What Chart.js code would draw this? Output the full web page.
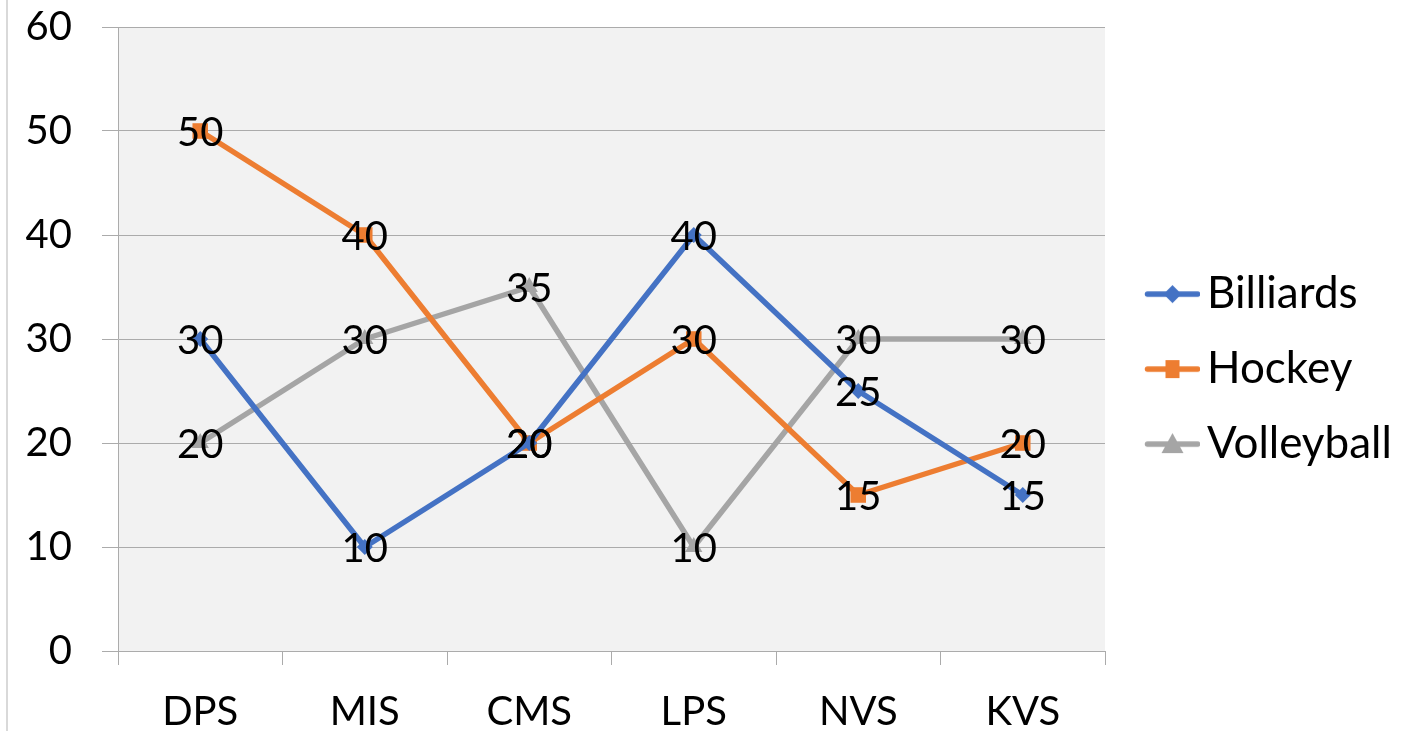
<!DOCTYPE html>
<html><head><meta charset="utf-8">
<script src="https://cdn.jsdelivr.net/npm/chart.js@4"></script>
<style>
html,body{margin:0;padding:0;background:#fff;overflow:hidden}
#wrap{position:relative;width:1401px;height:731px}
#edge{position:absolute;left:6px;top:0;width:2px;height:731px;background:#d9d9d9}
canvas{display:block}
</style></head><body>
<div id="wrap"><canvas id="c" width="1401" height="731"></canvas><div id="edge"></div></div>
<script>
const categories = ['DPS','MIS','CMS','LPS','NVS','KVS'];
const billiards = [30,10,20,40,25,15];
const hockey = [50,40,20,30,15,20];
const volleyball = [20,30,35,10,30,30];
const seriesNames = ['Billiards','Hockey','Volleyball'];
const seriesColors = ['#4472C4','#ED7D31','#A5A5A5'];
const seriesMarkers = ['rectRot','rect','triangle'];
const yTicks = [0,10,20,30,40,50,60];

const FONT = 'Lato, "Open Sans", sans-serif';

function makeIcon(color, marker){
  const c = document.createElement('canvas');
  c.width = 79; c.height = 26;
  const g = c.getContext('2d');
  g.strokeStyle = color; g.fillStyle = color; g.lineWidth = 5.5; g.lineCap = 'round';
  g.beginPath(); g.moveTo(26.5, 13); g.lineTo(76.5, 13); g.stroke();
  const cx = 51.5, cy = 13;
  g.beginPath();
  if (marker === 'rectRot') { g.moveTo(cx-9,cy); g.lineTo(cx,cy-9); g.lineTo(cx+9,cy); g.lineTo(cx,cy+9); }
  else if (marker === 'rect') { g.rect(cx-7, cy-9, 14, 18); }
  else { g.moveTo(cx, cy-11); g.lineTo(cx+11, cy+9); g.lineTo(cx-11, cy+9); }
  g.closePath(); g.fill();
  return c;
}
const icons = seriesColors.map((col,i)=>makeIcon(col, seriesMarkers[i]));

const bgPlugin = {
  id: 'plotBg',
  beforeDraw(chart){
    const {ctx, chartArea:a} = chart;
    ctx.save(); ctx.fillStyle = '#f2f2f2';
    ctx.fillRect(a.left, a.top, a.right-a.left, a.bottom-a.top);
    ctx.restore();
  }
};
const labelPlugin = {
  id: 'valLabels',
  afterDatasetsDraw(chart){
    const ctx = chart.ctx;
    ctx.save();
    ctx.font = '40px ' + FONT;
    ctx.fillStyle = '#000';
    ctx.textAlign = 'center';
    ctx.textBaseline = 'middle';
    chart.data.datasets.forEach((ds, di)=>{
      const meta = chart.getDatasetMeta(di);
      meta.data.forEach((pt, i)=>{
        ctx.fillText(String(ds.data[i]), pt.x, pt.y + 2);
      });
    });
    ctx.restore();
  }
};

const seriesData = [billiards, hockey, volleyball];
const datasets = seriesNames.map((name,i)=>({
  label: name,
  data: seriesData[i],
  borderColor: seriesColors[i],
  backgroundColor: seriesColors[i],
  borderWidth: 5.5,
  tension: 0,
  pointStyle: seriesMarkers[i],
  pointRadius: seriesMarkers[i]==='rect' ? 11 : (seriesMarkers[i]==='rectRot' ? 8 : 10),
  pointBorderWidth: 0,
  pointBackgroundColor: seriesColors[i],
  borderCapStyle: 'round',
  borderJoinStyle: 'round'
}));

new Chart(document.getElementById('c'), {
  type: 'line',
  data: { labels: categories, datasets },
  plugins: [bgPlugin, labelPlugin],
  options: {
    responsive: false,
    animation: false,
    devicePixelRatio: 1,
    layout: { padding: { top: 0, left: 0, right: 0, bottom: 0 } },
    plugins: {
      tooltip: { enabled: false },
      legend: {
        position: 'right',
        maxWidth: 296,
        title: { display: true, text: '', font: { size: 1 }, padding: { top: 3, bottom: 3 } },
        labels: {
          color: '#000',
          font: { family: FONT, size: 44 },
          usePointStyle: true,
          pointStyleWidth: 49,
          padding: 31,
          generateLabels(chart){
            const items = Chart.defaults.plugins.legend.labels.generateLabels(chart);
            items.forEach((it,i)=>{ it.pointStyle = icons[i]; it.fontColor = '#000'; });
            return items;
          }
        }
      }
    },
    scales: {
      x: {
        type: 'category',
        offset: true,
        grid: { offset: true, drawOnChartArea: false, drawTicks: true, tickLength: 14, color: '#ababab' },
        border: { display: false },
        ticks: { color: '#000', font: { family: FONT, size: 40 }, padding: 23, maxRotation: 0, autoSkip: false },
        afterFit(s){ s.height = 80; s.paddingLeft = 0; s.paddingRight = 0; }
      },
      y: {
        min: 0, max: 60,
        afterBuildTicks(s){ s.ticks = yTicks.map(v=>({value:v})); },
        grid: { color: '#ababab', tickLength: 16, drawTicks: true },
        border: { display: true, color: '#ababab' },
        ticks: { color: '#000', font: { family: FONT, size: 40 }, padding: 30 },
        afterFit(s){ s.width = 118; s.paddingTop = 27; s.paddingBottom = 0; }
      }
    }
  }
});
</script>
</body></html>
